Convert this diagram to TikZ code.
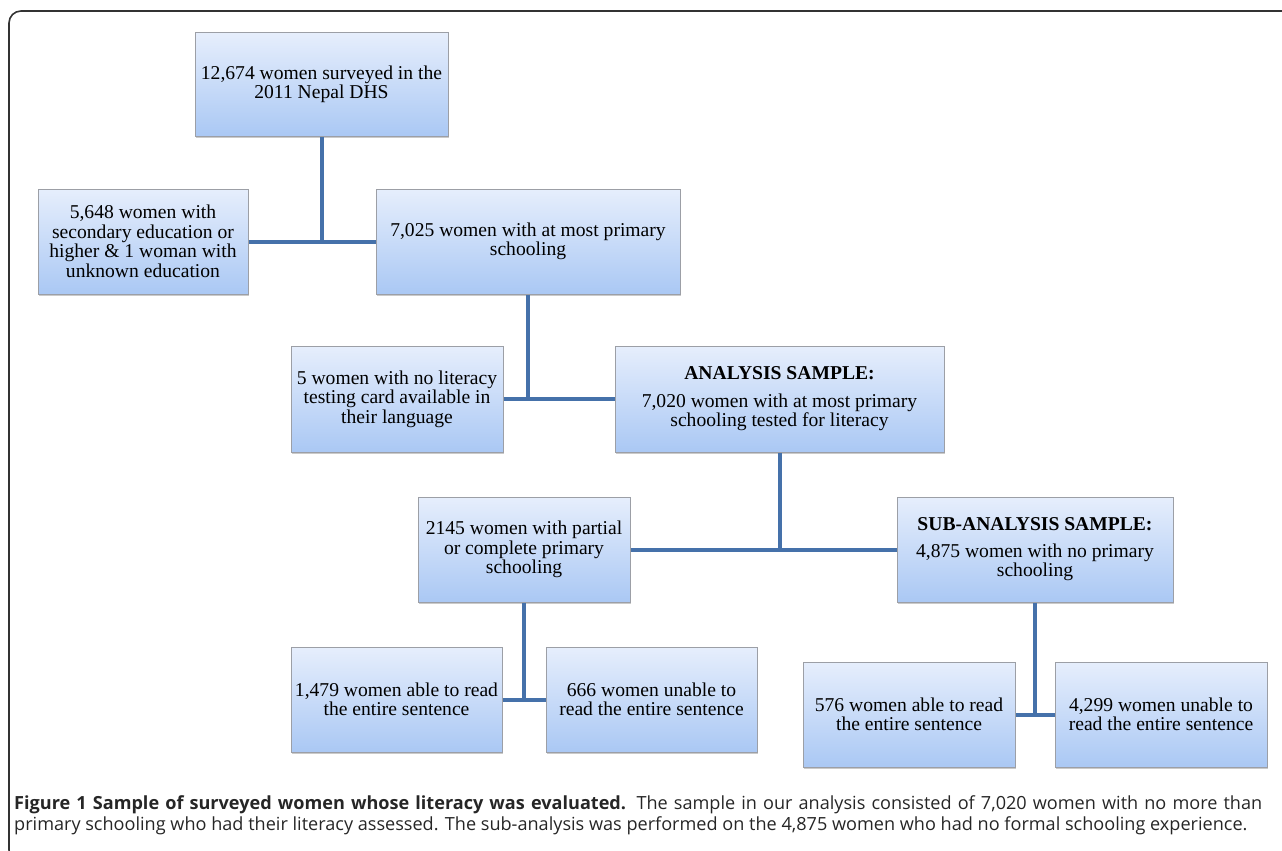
\documentclass[tikz,border=0pt]{standalone}
\usepackage{fontspec}
\setmainfont{Liberation Serif}
\newfontfamily\capfont{Open Sans}
\usetikzlibrary{shadows}
\definecolor{conncol}{HTML}{4571AA}
\definecolor{boxtop}{HTML}{E6EEFC}
\definecolor{boxbot}{HTML}{AAC8F4}
\definecolor{boxedge}{HTML}{9C9FA6}
\tikzset{
  fbox/.style={draw=boxedge, line width=1pt, top color=boxtop, bottom color=boxbot,
    inner sep=0pt, align=center, font=\fontsize{19.6}{19.5}\selectfont,
    drop shadow={shadow xshift=1pt, shadow yshift=-2pt, opacity=0.35, fill=black!60}},
  conn/.style={draw=conncol, line width=4pt},
}
\begin{document}
\begin{tikzpicture}[x=1pt,y=-1pt]
\path[use as bounding box, clip] (0,0) rectangle (1282,851);
\draw[line width=1.6pt, draw=black!80, rounded corners=12pt] (9,11) rectangle (1300,862);
% boxes
\node[fbox, minimum width=253pt, minimum height=103pt] (top) at (321.5,84.5) {12,674 women surveyed in the\\2011 Nepal DHS};
\node[fbox, minimum width=210pt, minimum height=105pt] (sec) at (143,241.5) {5,648 women with\\secondary education or\\higher \& 1 woman with\\unknown education};
\node[fbox, minimum width=304pt, minimum height=105pt] (prim) at (528,241.5) {7,025 women with at most primary\\schooling};
\node[fbox, minimum width=212pt, minimum height=106pt] (nocard) at (397,399) {5 women with no literacy\\testing card available in\\their language};
\node[fbox, minimum width=329pt, minimum height=106pt] (ana) at (779.5,399) {\textbf{ANALYSIS SAMPLE:}\\[8pt]7,020 women with at most primary\\schooling tested for literacy};
\node[fbox, minimum width=212pt, minimum height=105pt] (part) at (524,549.5) {2145 women with partial\\or complete primary\\schooling};
\node[fbox, minimum width=276pt, minimum height=105pt] (sub) at (1035,549.5) {\textbf{SUB-ANALYSIS SAMPLE:}\\[7pt]4,875 women with no primary\\schooling};
\node[fbox, minimum width=211pt, minimum height=105pt] (pread) at (396.5,699.5) {1,479 women able to read\\the entire sentence};
\node[fbox, minimum width=211pt, minimum height=105pt] (punread) at (651.5,699.5) {666 women unable to\\read the entire sentence};
\node[fbox, minimum width=212pt, minimum height=105pt] (nread) at (909,714.5) {576 women able to read\\the entire sentence};
\node[fbox, minimum width=212pt, minimum height=105pt] (nunread) at (1161,714.5) {4,299 women unable to\\read the entire sentence};
% connectors
\draw[conn] (top.south) -- (top.south |- sec.east);
\draw[conn] (sec.east) -- (prim.west);
\draw[conn] (prim.south) -- (prim.south |- nocard.east);
\draw[conn] (nocard.east) -- (ana.west);
\draw[conn] (ana.south) -- (ana.south |- part.east);
\draw[conn] (part.east) -- (sub.west);
\draw[conn] (part.south) -- (part.south |- pread.east);
\draw[conn] (pread.east) -- (punread.west);
\draw[conn] (sub.south) -- (sub.south |- nread.east);
\draw[conn] (nread.east) -- (nunread.west);
% caption
\node[anchor=north west, inner sep=0pt, text width=1248pt, align=justify,
  font=\capfont\fontsize{18.1}{21}\selectfont, text=black!85] (cap) at (14,795)
  {\textbf{Figure 1 Sample of surveyed women whose literacy was evaluated.} The sample in our analysis consisted of 7,020 women with no more than\linebreak primary schooling who had their literacy assessed. The sub-analysis was performed on the 4,875 women who had no formal schooling experience.};
\end{tikzpicture}
\end{document}
